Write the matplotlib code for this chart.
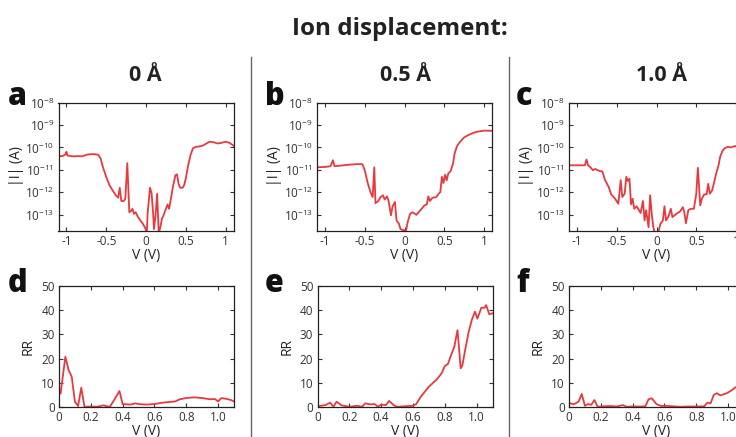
import matplotlib
matplotlib.use("Agg")
import matplotlib.pyplot as plt
from matplotlib.ticker import FixedLocator, FixedFormatter, NullLocator
from matplotlib.lines import Line2D

plt.rcParams['font.family'] = ['Open Sans', 'DejaVu Sans']
plt.rcParams['mathtext.fontset'] = 'custom'
plt.rcParams['mathtext.rm'] = 'Open Sans'
plt.rcParams['axes.unicode_minus'] = False

# ---------------- data ----------------
title = "Ion displacement:"
col_titles = ["0 Å", "0.5 Å", "1.0 Å"]
panel_letters_top = ["a", "b", "c"]
panel_letters_bot = ["d", "e", "f"]

# |I|-V curves
va = [-1.10, -1.05, -1.01, -1.00, -0.99, -0.95, -0.90, -0.85, -0.80, -0.75, -0.70, -0.65, -0.60,
      -0.57, -0.54, -0.50, -0.46, -0.42, -0.38, -0.35, -0.33, -0.31, -0.28, -0.26, -0.235, -0.21,
      -0.19, -0.17, -0.15, -0.13, -0.10, -0.07, -0.04, -0.01, 0.01, 0.02, 0.05, 0.07, 0.09, 0.10,
      0.12, 0.14, 0.16, 0.18, 0.20, 0.22, 0.25, 0.27, 0.29, 0.31, 0.34, 0.37, 0.39, 0.41, 0.43,
      0.46, 0.48, 0.50, 0.53, 0.56, 0.59, 0.63, 0.67, 0.72, 0.76, 0.80, 0.85, 0.90, 0.95, 1.00,
      1.05, 1.10]
ia = [4.1e-11, 4.1e-11, 5.0e-11, 6.4e-11, 4.4e-11, 4.1e-11, 4.0e-11, 4.1e-11, 4.0e-11, 4.7e-11,
      5.0e-11, 5.0e-11, 4.7e-11, 3.2e-11, 1.27e-11, 4.9e-12, 2.1e-12, 1.23e-12, 7.4e-13, 5.8e-13,
      1.6e-12, 4.1e-13, 4.1e-13, 5.2e-13, 2.0e-11, 1.3e-13, 1.45e-13, 1.85e-13, 1.1e-13, 1.3e-13,
      7.9e-14, 5.6e-14, 4.0e-14, 2.6e-14, 1.5e-14, 1.1e-13, 1.6e-12, 9.3e-13, 1.1e-13, 2.3e-14,
      9.3e-14, 8.7e-13, 1.5e-14, 2.8e-14, 6.6e-14, 9.3e-14, 1.85e-13, 2.9e-13, 1.85e-13, 4.4e-13,
      1.9e-12, 5.8e-12, 6.3e-12, 2.4e-12, 1.6e-12, 1.6e-12, 2.1e-12, 4.1e-12, 1.6e-11, 4.6e-11,
      9.1e-11, 1.07e-10, 1.1e-10, 1.23e-10, 1.5e-10, 1.8e-10, 1.7e-10, 1.5e-10, 1.6e-10, 1.8e-10,
      1.6e-10, 1.2e-10]

vb = [-1.10, -1.00, -0.93, -0.90, -0.88, -0.80, -0.70, -0.60, -0.53, -0.50, -0.46, -0.42, -0.40,
      -0.38, -0.365, -0.33, -0.30, -0.27, -0.25, -0.22, -0.20, -0.17, -0.15, -0.12, -0.10, -0.07,
      -0.05, -0.02, 0.02, 0.04, 0.07, 0.10, 0.15, 0.20, 0.25, 0.28, 0.30, 0.32, 0.35, 0.40, 0.43,
      0.45, 0.47, 0.49, 0.51, 0.53, 0.55, 0.58, 0.61, 0.63, 0.66, 0.70, 0.75, 0.80, 0.85, 0.90,
      1.00, 1.10]
ib = [1.3e-11, 1.35e-11, 1.45e-11, 2.7e-11, 1.45e-11, 1.55e-11, 1.7e-11, 1.8e-11, 1.8e-11, 9.7e-12,
      2.4e-12, 8.7e-13, 6.2e-13, 1.3e-11, 3.3e-13, 4.1e-13, 6.2e-13, 7.4e-13, 4.8e-13, 6.6e-13,
      4.1e-13, 9.5e-14, 2.4e-13, 3.7e-13, 5.6e-14, 4.0e-14, 2.3e-14, 2.1e-14, 2.0e-14, 4.7e-14,
      1.1e-13, 1.3e-13, 1.0e-13, 1.6e-13, 2.6e-13, 2.9e-13, 6.6e-13, 4.1e-13, 5.7e-13, 6.2e-13,
      8.7e-13, 1.03e-12, 4.9e-12, 2.6e-12, 6.1e-12, 3.4e-12, 6.9e-12, 8.8e-12, 1.9e-11, 5.4e-11,
      1.15e-10, 1.8e-10, 2.8e-10, 3.5e-10, 4.2e-10, 4.9e-10, 5.6e-10, 5.5e-10]

vc = [-1.10, -0.95, -0.90, -0.88, -0.86, -0.83, -0.80, -0.77, -0.72, -0.68, -0.65, -0.60, -0.57,
      -0.52, -0.48, -0.45, -0.43, -0.40, -0.38, -0.36, -0.34, -0.32, -0.30, -0.28, -0.25, -0.22,
      -0.20, -0.17, -0.15, -0.13, -0.10, -0.08, -0.06, -0.04, -0.02, 0.02, 0.05, 0.08, 0.10, 0.12,
      0.15, 0.18, 0.20, 0.25, 0.30, 0.33, 0.35, 0.37, 0.40, 0.43, 0.47, 0.50, 0.52, 0.55, 0.57,
      0.60, 0.63, 0.65, 0.67, 0.70, 0.72, 0.75, 0.78, 0.80, 0.83, 0.86, 0.90, 0.93, 0.97, 1.02,
      1.06, 1.10]
ic = [1.6e-11, 1.6e-11, 1.6e-11, 2.9e-11, 1.6e-11, 1.3e-11, 9.7e-12, 1.1e-11, 9.0e-12, 8.5e-12,
      3.7e-12, 1.7e-12, 8.1e-13, 5.2e-13, 3.1e-13, 3.5e-12, 6.2e-13, 8.7e-13, 4.9e-12, 3.2e-12,
      4.1e-12, 2.9e-13, 5.2e-13, 1.85e-13, 2.4e-13, 1.6e-13, 1.2e-13, 4.1e-13, 5.6e-14, 1.6e-13,
      2.8e-14, 7.4e-13, 1.1e-13, 2.8e-14, 1.5e-14, 1.5e-14, 4.0e-14, 5.6e-14, 2.4e-13, 5.6e-14,
      8.3e-14, 1.85e-13, 7.9e-14, 1.1e-13, 1.45e-13, 2.2e-13, 1.3e-13, 4.2e-14, 1.6e-13, 1.85e-13,
      1.85e-13, 8.7e-13, 1.23e-11, 2.6e-13, 5.2e-13, 8.1e-13, 8.1e-13, 2.4e-12, 8.7e-13, 1.23e-12,
      2.4e-12, 6.9e-12, 1.6e-11, 3.8e-11, 7.1e-11, 9.3e-11, 1.07e-10, 1.0e-10, 1.1e-10, 1.2e-10,
      1.3e-10, 1.3e-10]

# RR-V curves
vd = [0.01, 0.04, 0.06, 0.08, 0.10, 0.12, 0.14, 0.16, 0.20, 0.24, 0.28, 0.30, 0.32, 0.34, 0.38,
      0.40, 0.45, 0.48, 0.50, 0.55, 0.60, 0.65, 0.70, 0.73, 0.76, 0.80, 0.85, 0.90, 0.95, 0.98,
      1.00, 1.02, 1.05, 1.08, 1.10]
rd = [5.6, 20.8, 15.3, 12.5, 2.2, 0.4, 8.0, 0.1, 0.2, 0.1, 0.7, 0.3, 0.1, 2.2, 6.6,
      1.2, 1.0, 1.5, 1.2, 1.0, 1.2, 1.8, 2.1, 2.3, 3.2, 3.7, 4.0, 3.7, 3.2, 3.3,
      2.3, 3.7, 3.4, 2.9, 2.3]

ve = [0.01, 0.05, 0.08, 0.10, 0.12, 0.15, 0.20, 0.25, 0.28, 0.30, 0.33, 0.36, 0.38, 0.40, 0.43,
      0.45, 0.48, 0.50, 0.55, 0.60, 0.62, 0.65, 0.70, 0.75, 0.78, 0.80, 0.82, 0.84, 0.86, 0.88,
      0.90, 0.91, 0.93, 0.95, 0.97, 0.99, 1.005, 1.03, 1.05, 1.06, 1.08, 1.10]
re = [0.4, 0.8, 1.8, 0.1, 2.2, 0.7, 0.1, 0.5, 0.1, 1.5, 1.1, 1.2, 0.1, 1.0, 0.8,
      2.5, 0.7, 0.1, 0.3, 0.5, 1.2, 4.3, 8.4, 11.4, 13.9, 16.9, 17.8, 21.5, 24.9, 31.8,
      16.0, 17.0, 24.2, 31.0, 36.0, 39.4, 36.5, 41.0, 41.0, 42.1, 38.3, 38.7]

vf = [0.01, 0.03, 0.06, 0.08, 0.10, 0.12, 0.14, 0.16, 0.18, 0.22, 0.26, 0.30, 0.34, 0.36, 0.40,
      0.45, 0.48, 0.50, 0.52, 0.55, 0.58, 0.60, 0.65, 0.70, 0.75, 0.80, 0.85, 0.87, 0.89, 0.91,
      0.93, 0.95, 0.98, 1.00, 1.02, 1.04, 1.07, 1.10]
rf = [1.5, 1.1, 2.2, 5.4, 0.5, 1.2, 0.9, 2.9, 0.1, 0.3, 0.4, 0.2, 0.8, 0.1, 0.2,
      0.2, 0.3, 3.2, 3.6, 1.2, 0.4, 0.5, 0.3, 0.1, 0.2, 0.2, 0.3, 1.8, 1.5, 5.0,
      5.7, 4.8, 5.4, 6.0, 6.8, 7.8, 9.2, 11.0]

iv_x = [va, vb, vc]
iv_y = [ia, ib, ic]
rr_x = [vd, ve, vf]
rr_y = [rd, re, rf]

iv_xticks = [-1, -0.5, 0, 0.5, 1]
iv_xticklabels = ["-1", "-0.5", "0", "0.5", "1"]
iv_yticks = [1e-13, 1e-12, 1e-11, 1e-10, 1e-9, 1e-8]
iv_yticklabels = [r"$\mathregular{10^{-13}}$", r"$\mathregular{10^{-12}}$", r"$\mathregular{10^{-11}}$",
                  r"$\mathregular{10^{-10}}$", r"$\mathregular{10^{-9}}$", r"$\mathregular{10^{-8}}$"]
rr_xticks = [0, 0.2, 0.4, 0.6, 0.8, 1.0]
rr_xticklabels = ["0", "0.2", "0.4", "0.6", "0.8", "1.0"]
rr_yticks = [0, 10, 20, 30, 40, 50]

# ---------------- layout ----------------
W, H = 736, 437
fig = plt.figure(figsize=(W / 100, H / 100), dpi=100)
red = '#E8393F'
txtc = '#222222'


def px_axes(l, t, r, b):
    return fig.add_axes([l / W, 1 - b / H, (r - l) / W, (b - t) / H])


top_lefts = [58.5, 317, 569]
bot_lefts = [59, 317.5, 569]
aw = 175


def style(ax):
    ax.tick_params(direction='in', top=True, right=True, length=3, width=0.8,
                   labelsize=8.5, colors='#333333', pad=3)
    for s in ax.spines.values():
        s.set_linewidth(0.9)
        s.set_color('#222222')


for k in range(3):
    ax = px_axes(top_lefts[k], 102.5, top_lefts[k] + aw, 230.5)
    ax.plot(iv_x[k], iv_y[k], color=red, lw=1.3)
    ax.set_yscale('log')
    ax.set_xlim(-1.1, 1.1)
    ax.set_ylim(2e-14, 1e-8)
    ax.yaxis.set_major_locator(FixedLocator(iv_yticks))
    ax.yaxis.set_major_formatter(FixedFormatter(iv_yticklabels))
    ax.yaxis.set_minor_locator(NullLocator())
    ax.set_xticks(iv_xticks)
    ax.set_xticklabels(iv_xticklabels)
    ax.set_xlabel("V (V)", fontsize=10, labelpad=0, color=txtc)
    ax.set_ylabel("|I| (A)", fontsize=10, labelpad=1, color=txtc)
    style(ax)

    ax2 = px_axes(bot_lefts[k], 286, bot_lefts[k] + aw, 407)
    ax2.plot(rr_x[k], rr_y[k], color=red, lw=1.3)
    ax2.set_xlim(0, 1.1)
    ax2.set_ylim(0, 50)
    ax2.set_xticks(rr_xticks)
    ax2.set_xticklabels(rr_xticklabels)
    ax2.set_yticks(rr_yticks)
    ax2.set_xlabel("V (V)", fontsize=10, labelpad=0, color=txtc)
    ax2.set_ylabel("RR", fontsize=10, labelpad=4, color=txtc)
    style(ax2)

# titles
fig.text(400 / W, 1 - 35 / H, title, ha='center', va='baseline', fontsize=17.5,
         fontweight='bold', color=txtc)
col_x = [145, 405, 662]
for k in range(3):
    fig.text(col_x[k] / W, 1 - 81 / H, col_titles[k], ha='center', va='baseline',
             fontsize=15.5, fontweight='bold', color=txtc)

let_x = [8, 265, 516]
for k in range(3):
    fig.text(let_x[k] / W, 1 - 105 / H, panel_letters_top[k], ha='left', va='baseline',
             fontsize=22, fontweight='heavy', color='#111111')
    fig.text(let_x[k] / W, 1 - 292 / H, panel_letters_bot[k], ha='left', va='baseline',
             fontsize=22, fontweight='heavy', color='#111111')

# separators
for xs in [250.5, 509]:
    fig.add_artist(Line2D([xs / W, xs / W], [0, 1 - 57 / H], transform=fig.transFigure,
                          color='#666666', lw=1.0))

fig.savefig("out.png", dpi=100)
